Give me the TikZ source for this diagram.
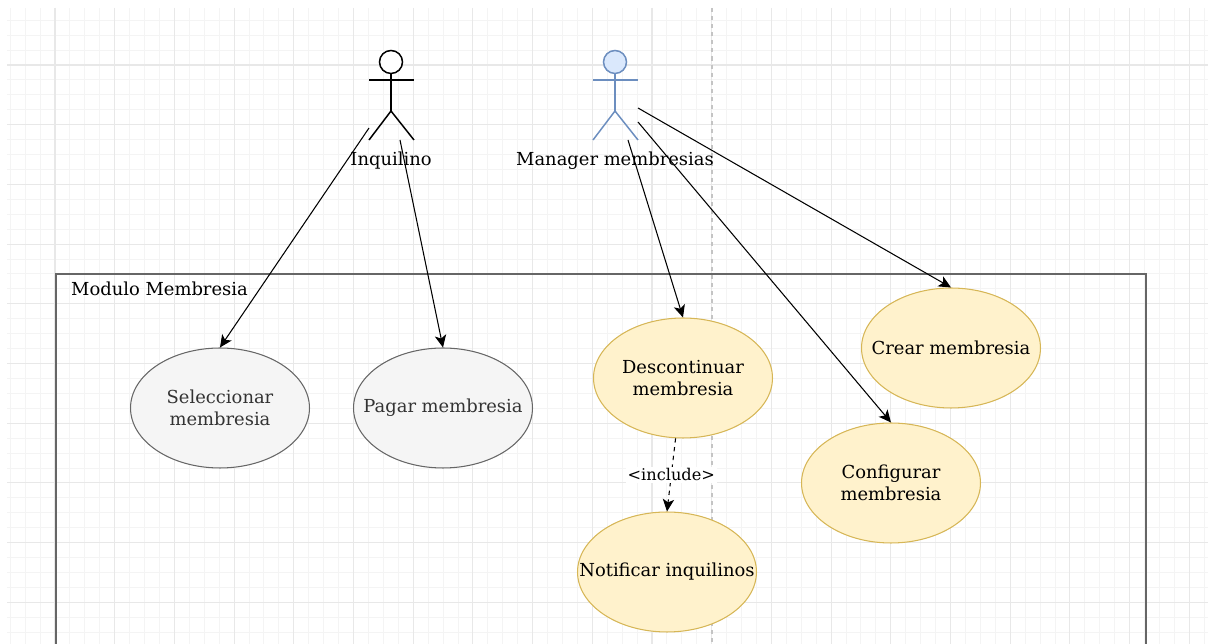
\documentclass[tikz,border=0pt]{standalone}
\usepackage{fontspec}
\setmainfont{DejaVu Serif}
\usepackage{tikz}
\usetikzlibrary{arrows.meta,shapes.geometric}
\definecolor{gridmin}{HTML}{F4F4F4}
\definecolor{gridmaj}{HTML}{E8E8E8}
\definecolor{pagebrk}{HTML}{C4C4C4}
\definecolor{yelfill}{HTML}{FFF2CC}
\definecolor{yeldraw}{HTML}{D6B656}
\definecolor{grayfill}{HTML}{F5F5F5}
\definecolor{graydraw}{HTML}{666666}
\definecolor{graytext}{HTML}{333333}
\definecolor{bluefill}{HTML}{DAE8FC}
\definecolor{bluedraw}{HTML}{6C8EBF}

\begin{document}
\begin{tikzpicture}[x=0.02cm,y=-0.02cm,font=\fontsize{10.2}{12.2}\selectfont,
	usecase/.style={ellipse,minimum width=3.58cm,minimum height=2.4cm,inner xsep=-30pt,inner ysep=0pt,align=center,line width=0.6pt},
	grayuc/.style={usecase,draw=graydraw,fill=grayfill,text=graytext},
	yellowuc/.style={usecase,draw=yeldraw,fill=yelfill},
	rel/.style={-{Stealth[length=7pt,width=6.5pt,inset=1.8pt]},line width=0.6pt},
	actor/.style={line width=0.85pt}]
	\useasboundingbox (0,0) rectangle (1208,644);
	
	% grid
	\begin{scope}
	\clip (7,8) rectangle (1208,644);
	\foreach \i in {0,...,80} \draw[gridmin,line width=0.5pt] (10.2+14.925*\i,8) -- (10.2+14.925*\i,644);
	\foreach \j in {0,...,41} \draw[gridmin,line width=0.5pt] (7,20.2+14.925*\j) -- (1208,20.2+14.925*\j);
	\foreach \i in {0,...,19} \draw[gridmaj,line width=0.65pt] (55+59.7*\i,8) -- (55+59.7*\i,644);
	\foreach \j in {0,...,9} \draw[gridmaj,line width=0.65pt] (7,65+59.7*\j) -- (1208,65+59.7*\j);
	\end{scope}
	\draw[pagebrk,line width=0.6pt,dash pattern=on 2.3pt off 2.3pt] (712,8) -- (712,644);
	
	% system box
	\draw[graydraw,line width=1.1pt] (56,660) -- (56,274) -- (1146,274) -- (1146,660);
	\node[anchor=west] (box) at (65,289) {Modulo Membresia};
	
	% actors
	\node[circle,draw,fill=white,actor,minimum size=0.46cm,inner sep=0pt] (a1) at (391,62) {};
	\draw[actor] (a1.south) -- (391,111);
	\draw[actor] (369,80) -- (414,80);
	\draw[actor] (369,140) -- (391,111) -- (414,140);
	\node (l1) at (391,161) {Inquilino};
	
	\node[circle,draw=bluedraw,fill=bluefill,actor,minimum size=0.46cm,inner sep=0pt] (a2) at (615,62) {};
	\draw[actor,bluedraw] (a2.south) -- (615,111);
	\draw[actor,bluedraw] (593,80) -- (638,80);
	\draw[actor,bluedraw] (593,140) -- (615,111) -- (638,140);
	\node (l2) at (615,161) {Manager membresias};
	
	% use cases
	\node[grayuc] (n1) at (220,408) {Seleccionar\\membresia};
	\node[grayuc] (n2) at (443,408) {Pagar membresia};
	\node[yellowuc] (n3) at (683,378) {Descontinuar\\membresia};
	\node[yellowuc] (n4) at (667,572) {Notificar inquilinos};
	\node[yellowuc] (n5) at (951,348) {Crear membresia};
	\node[yellowuc] (n6) at (891,483) {Configurar\\membresia};
	
	\coordinate (s1) at (369,128);
	\coordinate (s2) at (400,140);
	\coordinate (s3) at (628,140);
	\coordinate (s4) at (638,122);
	\coordinate (s5) at (638,108);
	
	\draw[rel] (s1) -- (n1.north);
	\draw[rel] (s2) -- (n2.north);
	\draw[rel] (s3) -- (n3.north);
	\draw[rel] (s4) -- (n6.north);
	\draw[rel] (s5) -- (n5.north);
	\draw[rel,dash pattern=on 2.5pt off 2.5pt] (n3.263) -- (n4.north) node[midway,fill=white,inner sep=1pt,font=\fontsize{9.2}{11}\selectfont]{<include>};
	
\end{tikzpicture}
\end{document}
